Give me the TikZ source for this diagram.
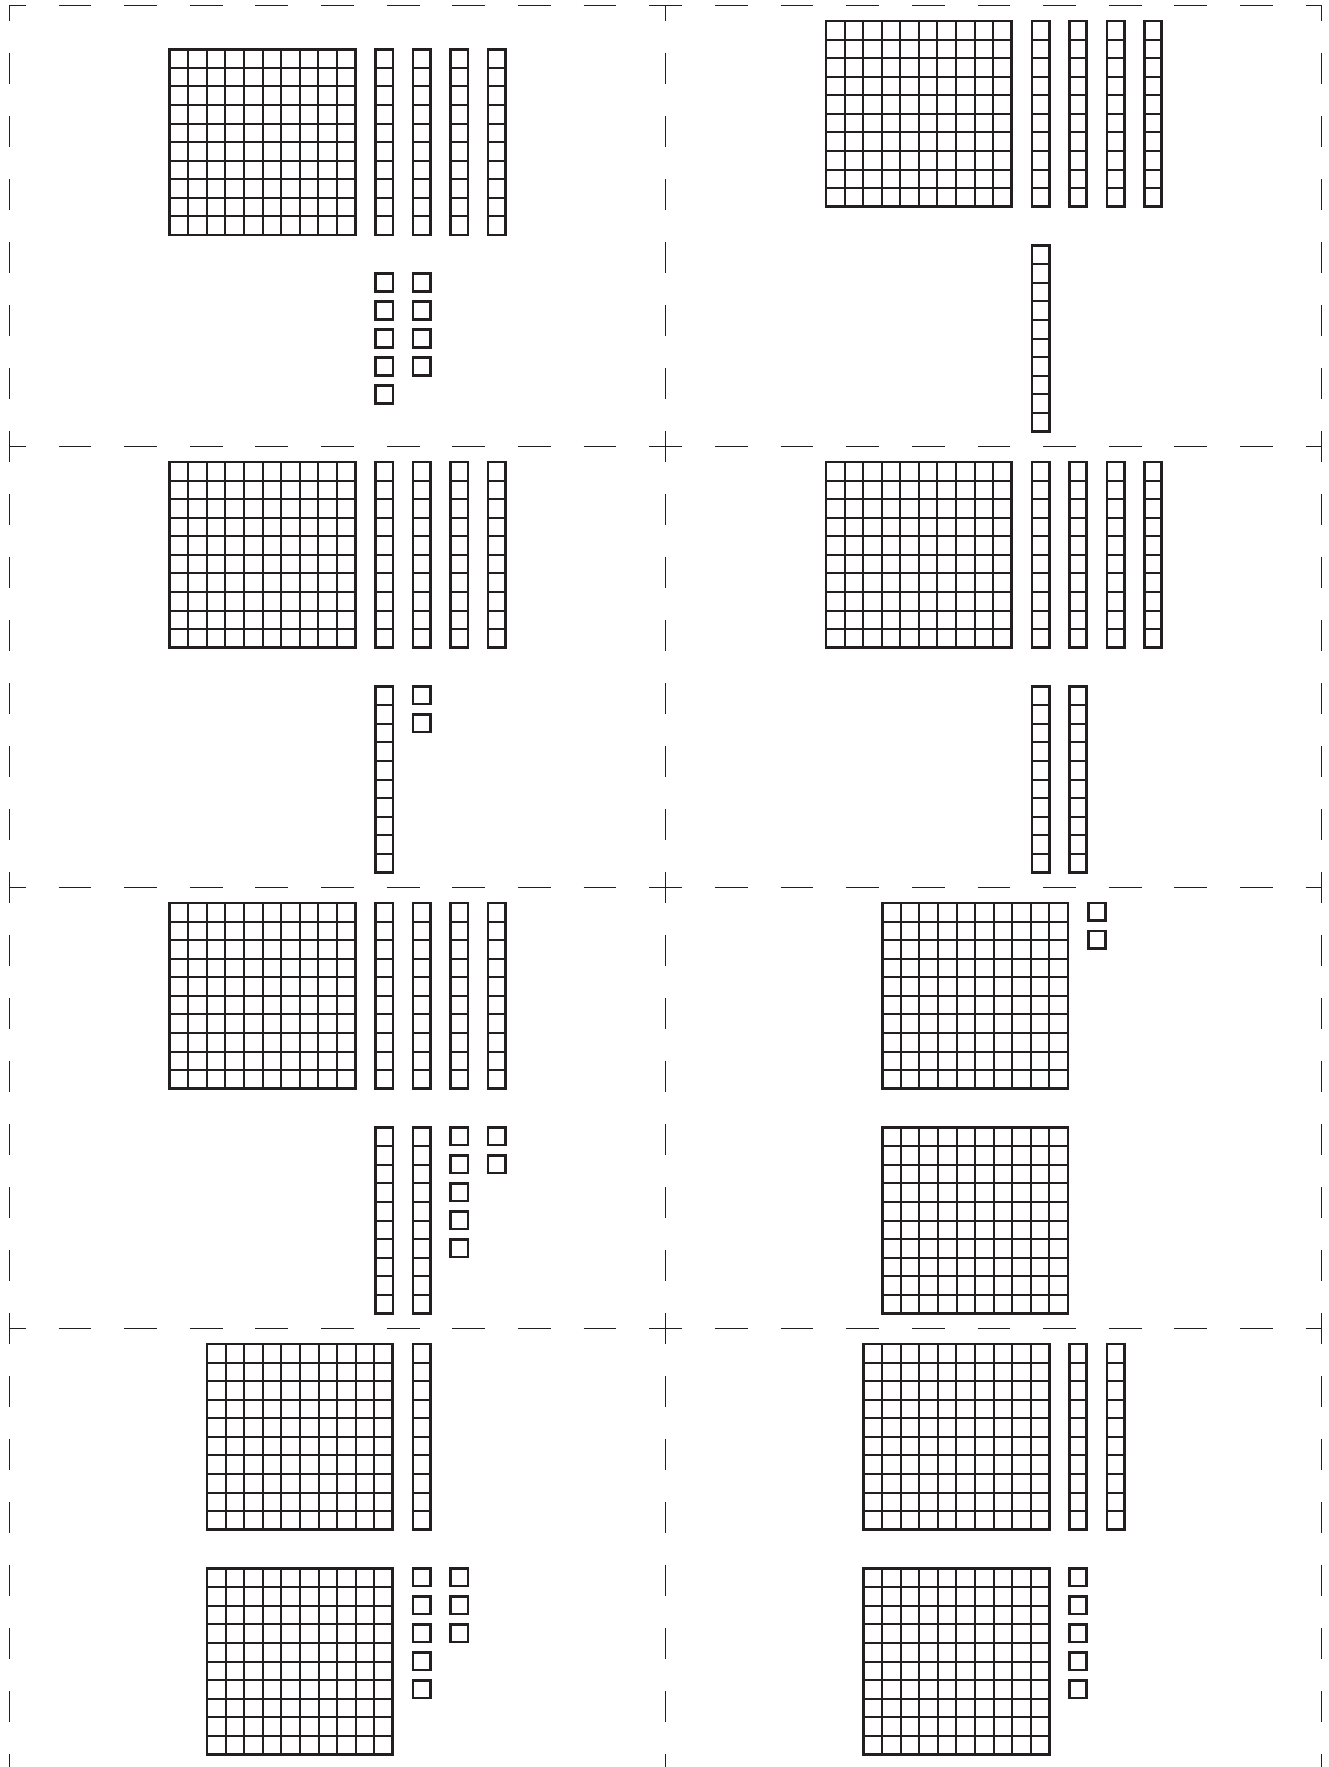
\documentclass[tikz,border=0pt]{standalone}
\definecolor{ink}{RGB}{35,31,32}
% hundred flat, ten rod and unit cube; #1,#2 = outer top-left corner (px)
\newcommand{\hundredblk}[2]{%
  \foreach \i in {1,...,9}{%
    \draw[innerline] ({#1+1.3+\i*18.58},{#2+1.3}) -- ++(0,185.8);
    \draw[innerline] ({#1+1.3},{#2+1.3+\i*18.58}) -- ++(185.8,0);
  }%
  \draw[outerline] ({#1+1.3},{#2+1.3}) rectangle ++(185.8,185.8);
}
\newcommand{\tenrod}[2]{%
  \foreach \i in {1,...,9}{%
    \draw[innerline] ({#1+1.3},{#2+1.3+\i*18.58}) -- ++(17.4,0);
  }%
  \draw[outerline] ({#1+1.3},{#2+1.3}) rectangle ++(17.4,185.8);
}
\newcommand{\oneunit}[2]{%
  \draw[outerline] ({#1+1.3},{#2+1.3}) rectangle ++(17.4,17.4);
}
% card origin, content width, content height -> \bxL, \bxT
\newcommand{\setcard}[4]{%
  \pgfmathsetmacro\bxL{#1+(656.4-#3)/2}%
  \pgfmathsetmacro\bxT{#2+(441-#4)/2}%
}
\begin{document}
\begin{tikzpicture}[x=0.5pt,y=-0.5pt,
  innerline/.style={draw=ink,line width=1.0pt},
  outerline/.style={draw=ink,line width=1.4pt},
  cutline/.style={draw=ink,line width=0.7pt}]
\useasboundingbox (0,0) rectangle (1328,1767);
\clip (0,0) rectangle (1328,1767);
\fill[white] (0,0) rectangle (1328,1767);

% cut lines
\foreach \yy in {5.7,446.7,887.7,1328.7}{%
  \draw[cutline, dash pattern=on 16.41pt off 16.41pt, dash phase=8.205pt] (9.3,\yy) -- (1321.7,\yy);
}
\foreach \xx in {9.3,665.7,1321.7}{%
  \draw[cutline, dash pattern=on 15.75pt off 15.75pt, dash phase=7.875pt] (\xx,5.7) -- (\xx,1769.7);
}

% card 1
\setcard{9.3}{5.7}{338.4}{356.6}
\hundredblk{\bxL}{\bxT}
\foreach \k in {0,...,3}{\tenrod{\bxL+206+\k*37.47}{\bxT}}
\foreach \j in {0,...,4}{\oneunit{\bxL+206}{\bxT+224.6+\j*28}}
\foreach \j in {0,...,3}{\oneunit{\bxL+243.47}{\bxT+224.6+\j*28}}

% card 2
\setcard{665.7}{5.7}{338.4}{413}
\hundredblk{\bxL}{\bxT}
\foreach \k in {0,...,3}{\tenrod{\bxL+206+\k*37.47}{\bxT}}
\tenrod{\bxL+206}{\bxT+224.6}

% card 3
\setcard{9.3}{446.7}{338.4}{413}
\hundredblk{\bxL}{\bxT}
\foreach \k in {0,...,3}{\tenrod{\bxL+206+\k*37.47}{\bxT}}
\tenrod{\bxL+206}{\bxT+224.6}
\foreach \j in {0,1}{\oneunit{\bxL+243.47}{\bxT+224.6+\j*28}}

% card 4
\setcard{665.7}{446.7}{338.4}{413}
\hundredblk{\bxL}{\bxT}
\foreach \k in {0,...,3}{\tenrod{\bxL+206+\k*37.47}{\bxT}}
\foreach \k in {0,1}{\tenrod{\bxL+206+\k*37.47}{\bxT+224.6}}

% card 5
\setcard{9.3}{887.7}{338.4}{413}
\hundredblk{\bxL}{\bxT}
\foreach \k in {0,...,3}{\tenrod{\bxL+206+\k*37.47}{\bxT}}
\foreach \k in {0,1}{\tenrod{\bxL+206+\k*37.47}{\bxT+224.6}}
\foreach \j in {0,...,4}{\oneunit{\bxL+280.94}{\bxT+224.6+\j*28}}
\foreach \j in {0,1}{\oneunit{\bxL+318.41}{\bxT+224.6+\j*28}}

% card 6
\setcard{665.7}{887.7}{226}{413}
\hundredblk{\bxL}{\bxT}
\foreach \j in {0,1}{\oneunit{\bxL+206}{\bxT+\j*28}}
\hundredblk{\bxL}{\bxT+224.6}

% card 7
\setcard{9.3}{1328.7}{263.47}{413}
\hundredblk{\bxL}{\bxT}
\tenrod{\bxL+206}{\bxT}
\hundredblk{\bxL}{\bxT+224.6}
\foreach \j in {0,...,4}{\oneunit{\bxL+206}{\bxT+224.6+\j*28}}
\foreach \j in {0,...,2}{\oneunit{\bxL+243.47}{\bxT+224.6+\j*28}}

% card 8
\setcard{665.7}{1328.7}{263.47}{413}
\hundredblk{\bxL}{\bxT}
\foreach \k in {0,1}{\tenrod{\bxL+206+\k*37.47}{\bxT}}
\hundredblk{\bxL}{\bxT+224.6}
\foreach \j in {0,...,4}{\oneunit{\bxL+206}{\bxT+224.6+\j*28}}
\end{tikzpicture}
\end{document}
